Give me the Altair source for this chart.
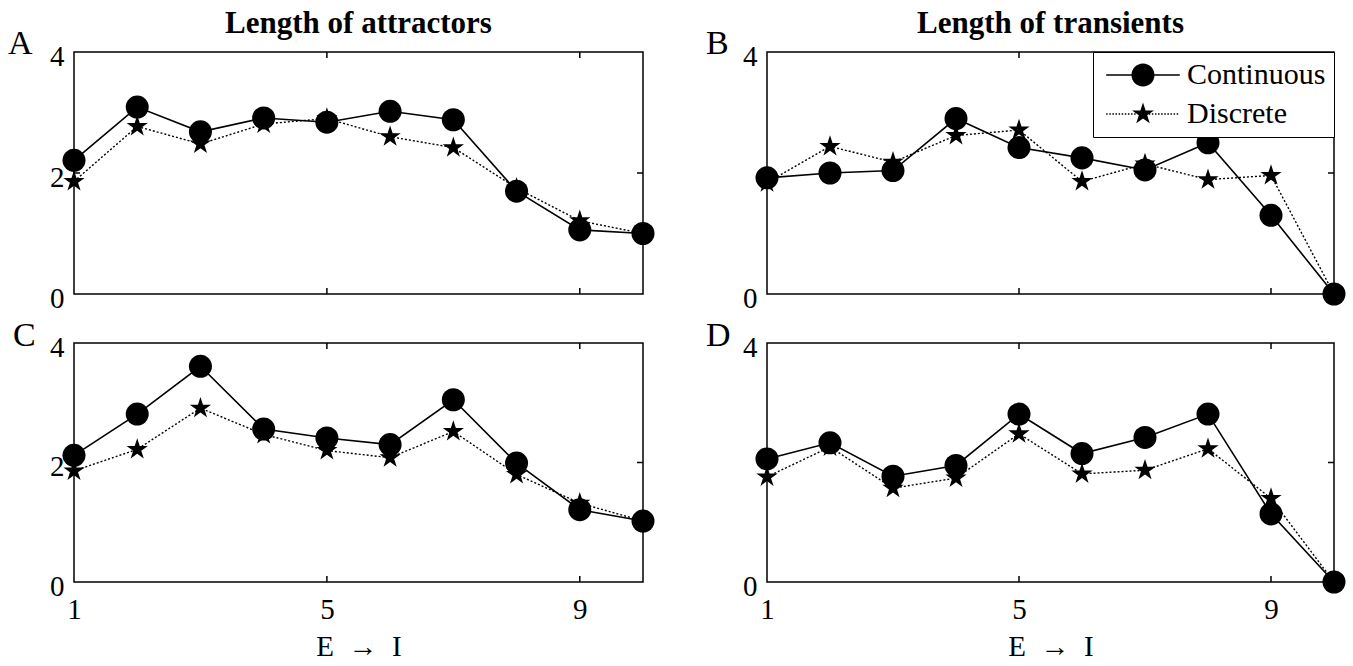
import altair as alt
import pandas as pd

# ---------------- data ----------------
x_vals = [1, 2, 3, 4, 5, 6, 7, 8, 9, 10]

a_cont = [2.21, 3.09, 2.68, 2.91, 2.84, 3.02, 2.88, 1.70, 1.06, 1.00]
a_disc = [1.86, 2.77, 2.48, 2.81, 2.90, 2.60, 2.42, 1.75, 1.21, 1.00]

b_cont = [1.92, 2.00, 2.04, 2.90, 2.42, 2.25, 2.05, 2.50, 1.30, 0.00]
b_disc = [1.84, 2.44, 2.18, 2.62, 2.71, 1.86, 2.15, 1.89, 1.96, 0.00]

c_cont = [2.12, 2.81, 3.61, 2.56, 2.41, 2.30, 3.05, 1.99, 1.21, 1.02]
c_disc = [1.86, 2.22, 2.91, 2.47, 2.20, 2.08, 2.52, 1.80, 1.32, 1.02]

d_cont = [2.06, 2.33, 1.77, 1.95, 2.81, 2.15, 2.42, 2.81, 1.14, 0.00]
d_disc = [1.76, 2.26, 1.57, 1.74, 2.48, 1.81, 1.87, 2.23, 1.40, 0.00]

series_names = ["Continuous", "Discrete"]
x_tick_values = [1, 5, 9]
x_inner_ticks = [5, 9]
y_inner_ticks = [2]
x_domain = [1, 10]
y_domain = [0, 4]

FONT = "Liberation Serif"

# ---------------- marker / legend symbol shapes ----------------
STAR = ("M0,-1L0.225,-0.309L0.951,-0.309L0.363,0.118L0.588,0.809L0,0.382"
        "L-0.588,0.809L-0.363,0.118L-0.951,-0.309L-0.225,-0.309Z")
CIRCLE = "M1,0A1,1,0,1,1,-1,0A1,1,0,1,1,1,0Z"


def _bar(a, b, h=0.065):
    return f"M{a:.3f},{-h}H{b:.3f}V{h}H{a:.3f}Z"


def _dots(a, b, period=0.27, w=0.13, h=0.06):
    out = []
    p = a
    while p + w <= b + 1e-9:
        out.append(_bar(p, p + w, h))
        p += period
    return "".join(out)


LEG_CIRCLE = _bar(-3.2, -0.99) + _bar(0.99, 3.2) + CIRCLE
LEG_STAR = _dots(-3.2, -0.5) + _dots(0.5, 3.2) + STAR


def panel(cont, disc, letter, width, height, show_x, y_values, title=None,
          legend=False, letter_dx=-61, letter_dy=3):
    df = pd.DataFrame({
        "x": x_vals + x_vals,
        "y": cont + disc,
        "series": [series_names[0]] * len(x_vals) + [series_names[1]] * len(x_vals),
    })
    if show_x:
        x_axis = alt.Axis(values=x_tick_values, labelFontSize=29, labelFont=FONT,
                          labelColor="black", labelPadding=13, labelFlush=False,
                          ticks=False, tickSize=0, domain=False, grid=False,
                          title="E\u2002\u2192\u2002I", titleFont=FONT, titleFontSize=29,
                          titleFontWeight="normal", titleColor="black",
                          titlePadding=8)
    else:
        x_axis = None
    X = alt.X("x:Q", scale=alt.Scale(domain=x_domain, nice=False, zero=False),
              axis=x_axis)
    Y = alt.Y("y:Q", scale=alt.Scale(domain=y_domain, nice=False, zero=False),
              axis=alt.Axis(values=y_values, labelFontSize=29, labelFont=FONT,
                            labelColor="black", labelPadding=10, labelFlush=False,
                            labelOffset=4, ticks=False, tickSize=0, domain=False,
                            grid=False, title=None))

    base = alt.Chart(df).encode(x=X, y=Y)
    cont_f = "datum.series == 'Continuous'"
    disc_f = "datum.series == 'Discrete'"

    line_c = base.transform_filter(cont_f).mark_line(color="black", strokeWidth=1.6)
    pts_c = base.transform_filter(cont_f).mark_point(
        filled=True, color="black", shape="circle", size=530, opacity=1)
    line_d = base.transform_filter(disc_f).mark_line(
        color="black", strokeWidth=1.4, strokeDash=[2, 2])
    pts_d = base.transform_filter(disc_f).mark_point(
        filled=True, color="black", shape=STAR, size=500, opacity=1)

    # inward ticks on the frame (half of each tick is clipped away)
    xt = pd.DataFrame({"x": x_inner_ticks * 2,
                       "y": [y_domain[0]] * len(x_inner_ticks) + [y_domain[1]] * len(x_inner_ticks)})
    yt = pd.DataFrame({"x": [x_domain[0]] * len(y_inner_ticks) + [x_domain[1]] * len(y_inner_ticks),
                       "y": y_inner_ticks * 2})
    ticks_x = alt.Chart(xt).mark_tick(clip=True, color="black", thickness=1.5,
                                      size=12, orient="vertical", opacity=1).encode(x=X, y=Y)
    ticks_y = alt.Chart(yt).mark_tick(clip=True, color="black", thickness=1.5,
                                      size=12, orient="horizontal", opacity=1).encode(x=X, y=Y)

    letter_layer = alt.Chart(pd.DataFrame({"label": [letter]})).mark_text(
        align="left", baseline="alphabetic", fontSize=34, font=FONT, color="black"
    ).encode(x=alt.value(letter_dx), y=alt.value(letter_dy), text="label:N")

    layers = [ticks_x, ticks_y, line_c, pts_c, line_d, pts_d, letter_layer]

    if legend:
        leg = alt.Legend(title=None, orient="top-right", offset=0, padding=8,
                         strokeColor="black", fillColor="white",
                         labelFont=FONT, labelFontSize=30, labelColor="black",
                         symbolSize=529, symbolOffset=27, labelOffset=29,
                         rowPadding=9, symbolStrokeWidth=0,
                         symbolFillColor="black", symbolOpacity=1)
        leg_layer = base.transform_filter("datum.x > 100").mark_point(
            filled=True, color="black", opacity=1
        ).encode(
            shape=alt.Shape("series:N",
                            scale=alt.Scale(domain=series_names, range=[LEG_CIRCLE, LEG_STAR]),
                            legend=leg),
        )
        layers.append(leg_layer)

    ch = alt.layer(*layers).properties(width=width, height=height)
    if title is not None:
        ch = ch.properties(title=alt.Title(title, font=FONT, fontSize=31, fontWeight="bold",
                                           color="black", anchor="middle", frame="group",
                                           offset=-13))
    return ch


pa = panel(a_cont, a_disc, "A", 569, 242, False, [0, 2, 4], title="Length of attractors",
           letter_dx=-66, letter_dy=2)
pb = panel(b_cont, b_disc, "B", 567, 242, False, [0, 4], title="Length of transients",
           legend=True, letter_dx=-61, letter_dy=2)
pc = panel(c_cont, c_disc, "C", 569, 239, True, [0, 2, 4], letter_dx=-61, letter_dy=3)
pd_ = panel(d_cont, d_disc, "D", 567, 239, True, [0, 4], letter_dx=-61, letter_dy=3)

chart = alt.concat(
    pa, pb, pc, pd_, columns=2, spacing={"row": 49, "column": 124}, bounds="flush"
).resolve_scale(shape="independent").properties(
    padding={"left": 7, "top": 7, "right": 5, "bottom": 5},
    background="white",
).configure(font=FONT).configure_view(stroke="black", strokeWidth=1.5)

chart.save("out.html", embed_options={"renderer": "svg", "actions": False})
